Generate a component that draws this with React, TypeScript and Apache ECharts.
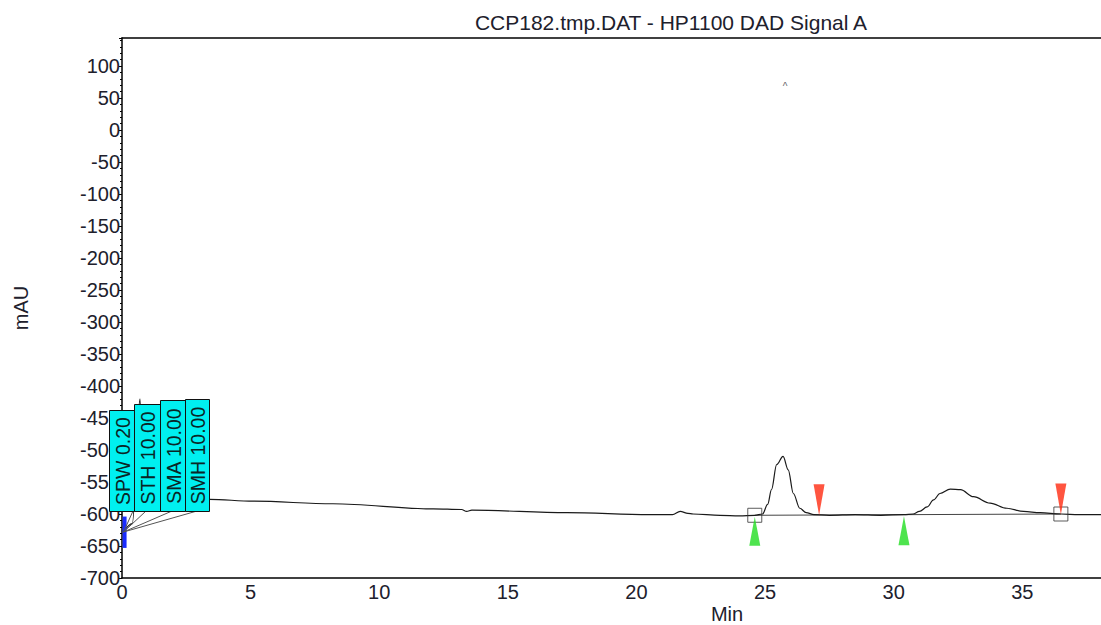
import React, { useEffect, useRef } from "react";
import * as echarts from "echarts";

const traceTime = [0.05, 0.4, 0.7, 0.8, 1.1, 2.5, 3.4, 5.1, 8.2, 12.1, 13.2, 13.4, 13.6, 17.3, 20.5, 21.4, 21.7, 22.0, 22.2, 23.25, 24.0, 24.6, 24.9, 25.1, 25.25, 25.45, 25.7, 25.9, 26.1, 26.35, 26.6, 26.9, 27.5, 28.5, 29.5, 30.4, 30.75, 31.0, 31.3, 31.55, 31.8, 32.2, 32.6, 33.1, 33.75, 34.4, 35.05, 35.7, 36.5, 37.2, 38.06];
const traceValue = [-628, -615, -420, -560, -575, -575, -577, -580, -584, -592, -593, -596, -594, -598, -601, -601, -596, -599, -600, -602, -603, -602, -600, -585, -562, -523, -510, -531, -568, -591, -598, -601, -602, -601, -602, -601, -600, -596, -589, -578, -568, -561, -562, -573, -583, -591, -596, -598, -600, -601, -601];

const baselineTime = [24.6, 36.5];
const baselineValue = [-602, -600];

const peakStartTime = [24.6, 30.4];
const peakStartValue = [-602, -601];
const peakEndTime = [27.1, 36.5];
const peakEndValue = [-601, -600];

const eventMarkTime = [0.1, 0.1];
const eventMarkValue = [-604, -653];

const eventLabels = ["SPW 0.20", "STH 10.00", "SMA 10.00", "SMH 10.00"];

const FONT = '"Liberation Sans", Arial, sans-serif';
const TXT = "#20202c";

export default function App() {
  const ref = useRef<HTMLDivElement>(null);
  useEffect(() => {
    document.body.style.margin = "0";
    const chart = echarts.init(ref.current!, null, { renderer: "svg" });
    const zip = (a: number[], b: number[]) => a.map((v, i) => [v, b[i]]);
    const boxes = [
      { x: 109, y: 410, w: 25, h: 101 },
      { x: 134, y: 404, w: 26, h: 107 },
      { x: 160, y: 400, w: 25, h: 111 },
      { x: 185, y: 399, w: 24, h: 112 },
    ];
    const leaderStart = [133, 146, 172, 197];
    const graphics: any[] = [];
    boxes.forEach((b, i) => {
      graphics.push({
        type: "line",
        z: 100,
        shape: { x1: leaderStart[i], y1: 511, x2: 123.5, y2: 532 },
        style: { stroke: "#555", lineWidth: 1 },
      });
    });
    boxes.forEach((b, i) => {
      graphics.push({
        type: "rect",
        z: 101,
        shape: { x: b.x + 0.5, y: b.y + 0.5, width: b.w, height: b.h },
        style: { fill: "#00f0f0", stroke: "#111", lineWidth: 1 },
      });
      graphics.push({
        type: "text",
        z: 102,
        x: b.x + b.w / 2 + 1,
        y: b.y + b.h / 2 + 0.5,
        rotation: Math.PI / 2,
        style: {
          text: eventLabels[i],
          font: `19.5px ${FONT}`,
          fill: "#0a2626",
          align: "center",
          verticalAlign: "middle",
        },
      });
    });
    graphics.push({
      type: "text",
      x: 671,
      y: 22,
      style: { text: "CCP182.tmp.DAT - HP1100 DAD Signal A", font: `21px ${FONT}`, fill: TXT, align: "center", verticalAlign: "middle" },
    });
    graphics.push({
      type: "text",
      x: 727,
      y: 614,
      style: { text: "Min", font: `20px ${FONT}`, fill: TXT, align: "center", verticalAlign: "middle" },
    });
    graphics.push({
      type: "text",
      x: 785,
      y: 86,
      style: { text: "^", font: `10px ${FONT}`, fill: "#666", align: "center", verticalAlign: "middle" },
    });

    chart.setOption({
      animation: false,
      grid: { left: 122, right: 0, top: 38, bottom: 47, containLabel: false, outerBoundsMode: "none" },
      xAxis: [
        {
          type: "value",
          min: 0,
          max: 38.06,
          interval: 5,
          axisLine: { show: true, onZero: false, lineStyle: { color: "#000", width: 1.5 } },
          axisTick: { show: false },
          splitLine: { show: false },
          axisLabel: { fontSize: 20, fontFamily: FONT, color: TXT, margin: 4, showMaxLabel: false },
        },
        {
          type: "value",
          position: "top",
          min: 0,
          max: 38.06,
          axisLine: { show: true, onZero: false, lineStyle: { color: "#000", width: 1.5 } },
          axisTick: { show: false },
          axisLabel: { show: false },
          splitLine: { show: false },
        },
      ],
      yAxis: {
        type: "value",
        min: -700,
        max: 143.75,
        interval: 50,
        name: "mAU",
        nameLocation: "middle",
        nameGap: 91,
        nameRotate: 90,
        nameTextStyle: { fontSize: 20, fontFamily: FONT, color: TXT },
        axisLine: { show: true, onZero: false, lineStyle: { color: "#000", width: 1.5 } },
        axisTick: { show: true, length: 3, lineStyle: { color: "#000" } },
        minorTick: { show: true, splitNumber: 5, length: 2, lineStyle: { color: "#000" } },
        splitLine: { show: false },
        axisLabel: { fontSize: 20, fontFamily: FONT, color: TXT, margin: 2, showMaxLabel: false },
      },
      graphic: graphics,
      series: [
        {
          type: "line",
          data: zip(traceTime, traceValue),
          showSymbol: false,
          smooth: 0.35,
          smoothMonotone: "x",
          lineStyle: { color: "#1a1a1a", width: 1.2 },
          z: 3,
        },
        {
          type: "line",
          data: zip(baselineTime, baselineValue),
          showSymbol: false,
          lineStyle: { color: "#444", width: 1 },
          z: 2,
        },
        {
          type: "line",
          data: zip(eventMarkTime, eventMarkValue),
          showSymbol: false,
          lineStyle: { color: "#1a2cff", width: 4 },
          z: 4,
        },
        {
          type: "scatter",
          data: zip(baselineTime, baselineValue),
          symbol: "rect",
          symbolSize: 14,
          itemStyle: { color: "rgba(0,0,0,0)", borderColor: "#333", borderWidth: 1 },
          z: 5,
        },
        {
          type: "scatter",
          data: zip(peakEndTime, peakEndValue),
          symbol: "path://M0,0 L12,0 L6,30 Z",
          symbolSize: [11, 31],
          symbolKeepAspect: false,
          symbolOffset: [0, -15],
          itemStyle: { color: "#ff2a10" },
          z: 6,
        },
        {
          type: "scatter",
          data: zip(peakStartTime, peakStartValue),
          symbol: "path://M6,0 L12,28 L0,28 Z",
          symbolSize: [11, 29],
          symbolKeepAspect: false,
          symbolOffset: [0, 16],
          itemStyle: { color: "#22dd22" },
          z: 6,
        },
      ],
    });
    return () => chart.dispose();
  }, []);
  return <div ref={ref} style={{ width: 1101, height: 625 }} />;
}
